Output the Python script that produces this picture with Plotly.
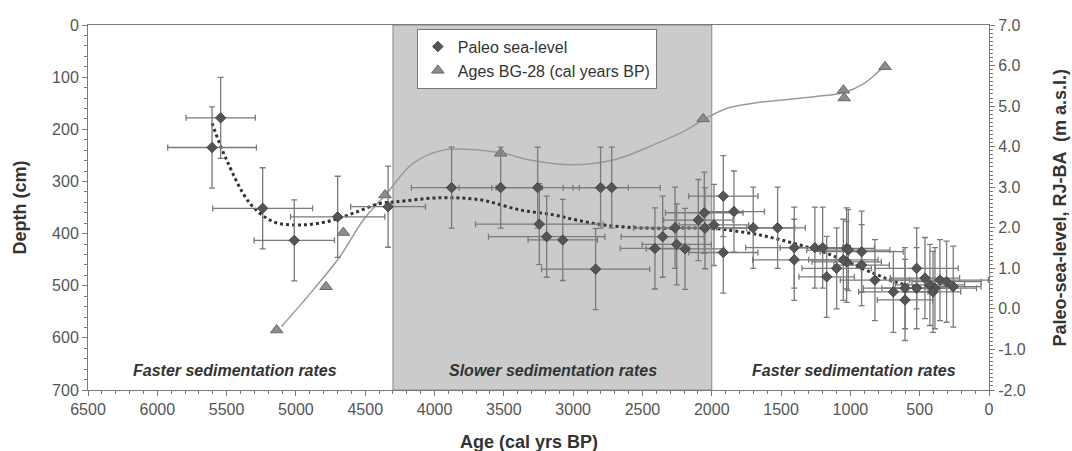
import plotly.graph_objects as go

# Paleo sea-level points (age cal yrs BP, sea level m a.s.l., age error)
sl_age = [5543, 5605, 5240, 5012, 4699, 4335, 3877, 3523, 3256, 3244, 3191, 3075, 2802, 2722, 2838,
          2354, 2410, 2265, 2253, 2193, 2097, 2054, 2049, 1984, 1917, 1917, 1840, 1701, 1525,
          1405, 1405, 1256, 1200, 1171, 1099, 1027, 1027, 1015, 919, 1051, 919, 823, 690, 606,
          606, 522, 522, 426, 390, 354, 306, 258, 404, 462]
sl_val = [4.71, 3.98, 2.48, 1.69, 2.27, 2.52, 2.99, 2.99, 2.99, 2.09, 1.78, 1.70, 2.99, 2.99, 0.98,
          1.78, 1.49, 2.00, 1.59, 1.48, 2.19, 2.37, 1.99, 2.07, 2.78, 1.39, 2.40, 2.00, 2.00,
          1.51, 1.21, 1.51, 1.51, 0.79, 1.00, 1.16, 1.49, 1.45, 1.41, 1.21, 1.08, 0.71, 0.42, 0.51,
          0.22, 1.00, 0.51, 0.59, 0.51, 0.71, 0.67, 0.55, 0.42, 0.76]
age_err = [250, 320, 360, 290, 340, 270, 290, 300, 300, 460, 420, 250, 200, 350, 390,
           300, 250, 300, 250, 280, 250, 280, 300, 250, 250, 250, 220, 300, 200,
           350, 300, 250, 200, 200, 250, 250, 200, 300, 300, 250, 200, 250, 250, 300,
           200, 300, 250, 250, 300, 350, 250, 200, 200, 250]
sl_err = 1.0

# Dashed sea-level trend
trend_age = [5605, 5500, 5331, 5163, 4971, 4778, 4586, 4394, 4273, 3961, 3672, 3384, 3143, 2975,
             2783, 2542, 2301, 1989, 1893, 1652, 1412, 1171, 835, 642, 400]
trend_sl = [4.58, 3.67, 2.60, 2.15, 2.07, 2.15, 2.36, 2.60, 2.64, 2.74, 2.69, 2.44, 2.32, 2.19,
            2.07, 2.00, 1.99, 1.99, 1.95, 1.82, 1.62, 1.37, 0.88, 0.63, 0.50]

# Ages BG-28 (age, depth cm)
tri_age = [5139, 4783, 4658, 4357, 3523, 2062, 1050, 1045, 750]
tri_depth = [585, 502, 398, 326, 246, 180, 125, 140, 80]

# Age-depth model curve
curve_age = [5103, 4875, 4682, 4514, 4345, 4153, 3937, 3672, 3500, 3311, 3023, 2711, 2422, 2181,
             2062, 1893, 1700, 1500, 1250, 1050, 900, 800, 750]
curve_depth = [578, 508, 444, 374, 323, 265, 240, 240, 246, 259, 268, 259, 230, 201,
               182, 160, 150, 144, 137, 130, 112, 90, 78]

# Slow sedimentation interval
slow_start, slow_end = 4300, 2000

sl_tickvals = [-2, -1, 0, 1, 2, 3, 4, 5, 6, 7]
sl_ticktext = ["-2.0", "-1.0", "0.0", "1.0", "2.0", "3.0", "4.0", "5.0", "6.0", "7.0"]

region_labels = ["Faster sedimentation rates", "Slower sedimentation rates", "Faster sedimentation rates"]
region_x = [5440, 3146, 974]
region_depth = 662

FONT = "Liberation Sans, Arial, sans-serif"
AX = "#7a7a7a"

fig = go.Figure()

fig.add_trace(go.Scatter(
    x=curve_age, y=curve_depth, mode="lines", line=dict(color="#9a9a9a", width=1.5, shape="spline"),
    showlegend=False, hoverinfo="skip", yaxis="y"))

fig.add_trace(go.Scatter(
    x=trend_age, y=trend_sl, mode="lines", line=dict(color="#333333", width=3, dash="dot", shape="spline"),
    showlegend=False, hoverinfo="skip", yaxis="y2"))

fig.add_trace(go.Scatter(
    x=sl_age, y=sl_val, mode="markers", name="Paleo sea-level", yaxis="y2",
    marker=dict(symbol="diamond", size=8, color="#555555", line=dict(color="#444444", width=1)),
    error_x=dict(type="data", array=age_err, color="#7a7a7a", thickness=1.3, width=3),
    error_y=dict(type="constant", value=sl_err, color="#7a7a7a", thickness=1.3, width=3)))

fig.add_trace(go.Scatter(
    x=tri_age, y=tri_depth, mode="markers", name="Ages BG-28 (cal years BP)", yaxis="y",
    marker=dict(symbol="triangle-up", size=11, color="#8c8c8c", line=dict(color="#6a6a6a", width=1))))

fig.add_shape(type="rect", xref="x", yref="paper", x0=slow_start, x1=slow_end, y0=0, y1=1,
              fillcolor="#cbcbcb", line=dict(color="#888888", width=1), layer="below")

for txt, xv in zip(region_labels, region_x):
    fig.add_annotation(x=xv, y=region_depth, xref="x", yref="y", text="<b><i>" + txt + "</i></b>",
                       showarrow=False, font=dict(family=FONT, size=16, color="#333333"))

fig.add_annotation(x=-0.0755, y=0.5, xref="paper", yref="paper", text="<b>Depth (cm)</b>",
                   textangle=-90, showarrow=False, xanchor="center", yanchor="middle",
                   font=dict(family=FONT, size=18, color="#333333"))
fig.add_annotation(x=1.0788, y=0.5, xref="paper", yref="paper",
                   text="<b>Paleo-sea-level, RJ-BA  (m a.s.l.)</b>",
                   textangle=-90, showarrow=False, xanchor="center", yanchor="middle",
                   font=dict(family=FONT, size=18, color="#333333"))
fig.add_annotation(x=0.4895, y=-0.142, xref="paper", yref="paper", text="<b>Age (cal yrs BP)</b>",
                   showarrow=False, xanchor="center", yanchor="middle",
                   font=dict(family=FONT, size=18, color="#333333"))

fig.update_layout(
    width=1072, height=451,
    margin=dict(l=88, r=83, t=25, b=61, autoexpand=False),
    paper_bgcolor="white", plot_bgcolor="white",
    font=dict(family=FONT, size=16, color="#555555"),
    xaxis=dict(range=[6500, 0], dtick=500, tick0=0, showgrid=False, zeroline=False,
               showline=True, linecolor=AX, linewidth=1, mirror=True, automargin=False,
               ticks="outside", ticklen=5, tickcolor=AX,
               minor=dict(dtick=100, ticks="outside", ticklen=3, tickcolor=AX),
               tickfont=dict(size=16, color="#555555")),
    yaxis=dict(range=[700, 0], dtick=100, tick0=0, showgrid=False, zeroline=False,
               showline=True, linecolor=AX, linewidth=1, automargin=False,
               ticks="outside", ticklen=5, tickcolor=AX,
               minor=dict(dtick=20, ticks="outside", ticklen=3, tickcolor=AX),
               tickfont=dict(size=16, color="#555555")),
    yaxis2=dict(range=[-2, 7], overlaying="y", side="right", tickvals=sl_tickvals, ticktext=sl_ticktext,
                showgrid=False, zeroline=False, showline=True, linecolor=AX, linewidth=1, automargin=False,
                ticks="outside", ticklen=5, tickcolor=AX,
                minor=dict(dtick=0.1, ticks="outside", ticklen=3, tickcolor=AX),
                tickfont=dict(size=16, color="#555555")),
    legend=dict(x=0.365, y=0.99, xanchor="left", yanchor="top", bgcolor="white",
                bordercolor="#777777", borderwidth=1, font=dict(family=FONT, size=16, color="#333333"),
                tracegroupgap=0, entrywidth=265, entrywidthmode="pixels"),
    showlegend=True,
)

# remove the browser's default 8px page margin so the figure fills the window exactly
fig.write_html("out.html", config={"displayModeBar": False},
               post_script="document.body.style.margin='0';")
